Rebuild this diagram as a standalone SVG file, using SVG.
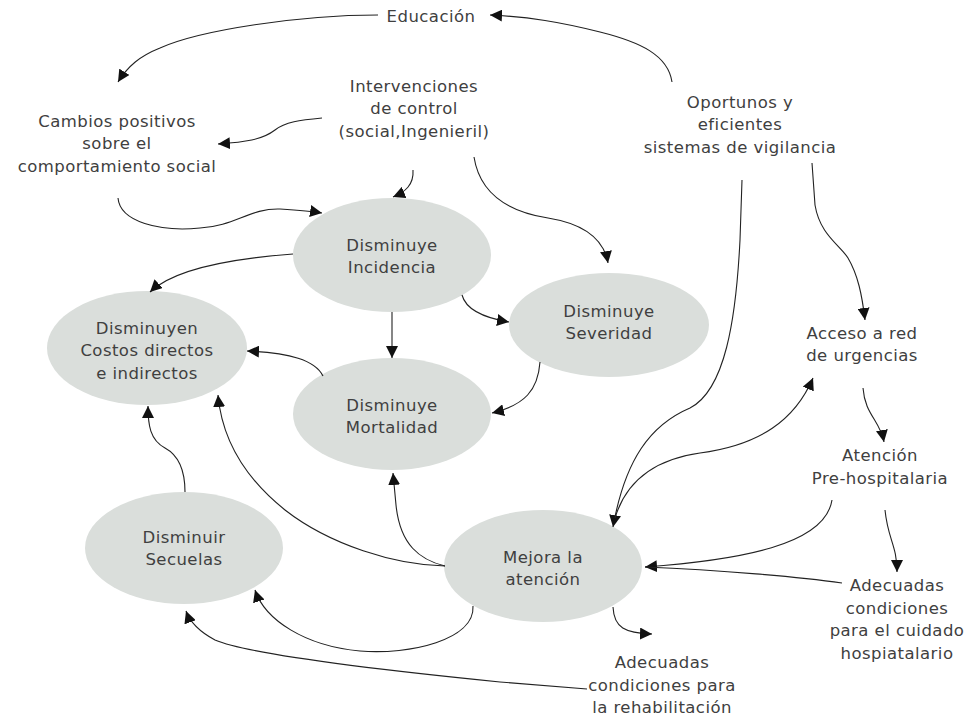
<svg xmlns="http://www.w3.org/2000/svg" width="974" height="717" viewBox="0 0 974 717">
<style>
.n{fill:#dadedb;stroke:none}
text{font-family:"DejaVu Sans","Liberation Sans",sans-serif;font-size:16.5px;letter-spacing:0.45px;fill:#404040;text-anchor:middle}
.c path{fill:none;stroke:#222;stroke-width:1.1}
</style>
<defs>
<marker id="a" markerUnits="userSpaceOnUse" markerWidth="13" markerHeight="12" refX="12" refY="6" orient="auto">
<path d="M0,0 L12,6 L0,12 z" fill="#111"/>
</marker>
</defs>
<rect width="974" height="717" fill="#fff"/>

<g id="educacion"><text x="431" y="22">Educación</text></g>
<g id="cambios"><text x="117" y="127">Cambios positivos</text><text x="117" y="149">sobre el</text><text x="117" y="172">comportamiento social</text></g>
<g id="intervenciones"><text x="414" y="92">Intervenciones</text><text x="414" y="114">de control</text><text x="414" y="137">(social,Ingenieril)</text></g>
<g id="oportunos"><text x="740" y="108">Oportunos y</text><text x="740" y="130">eficientes</text><text x="740" y="153">sistemas de vigilancia</text></g>
<g id="acceso"><text x="862" y="339">Acceso a red</text><text x="862" y="361">de urgencias</text></g>
<g id="atencion"><text x="880" y="461">Atención</text><text x="880" y="484">Pre-hospitalaria</text></g>
<g id="cuidado"><text x="897" y="591">Adecuadas</text><text x="897" y="614">condiciones</text><text x="897" y="636">para el cuidado</text><text x="897" y="659">hospiatalario</text></g>
<g id="rehab"><text x="662" y="668">Adecuadas</text><text x="662" y="691">condiciones para</text><text x="662" y="713">la rehabilitación</text></g>

<g id="incidencia"><ellipse class="n" cx="392" cy="255" rx="99" ry="57"/><text x="392" y="251">Disminuye</text><text x="392" y="273">Incidencia</text></g>
<g id="costos"><ellipse class="n" cx="147" cy="348" rx="100" ry="57"/><text x="147" y="334">Disminuyen</text><text x="147" y="356">Costos directos</text><text x="147" y="379">e indirectos</text></g>
<g id="severidad"><ellipse class="n" cx="609" cy="325" rx="100" ry="52"/><text x="609" y="317">Disminuye</text><text x="609" y="339">Severidad</text></g>
<g id="mortalidad"><ellipse class="n" cx="392" cy="414" rx="99" ry="56"/><text x="392" y="411">Disminuye</text><text x="392" y="433">Mortalidad</text></g>
<g id="secuelas"><ellipse class="n" cx="184" cy="548" rx="99" ry="56"/><text x="184" y="543">Disminuir</text><text x="184" y="565">Secuelas</text></g>
<g id="mejora"><ellipse class="n" cx="543" cy="566" rx="99" ry="56"/><text x="543" y="563">Mejora la</text><text x="543" y="585">atención</text></g>

<g class="c" id="connectors">
<path d="M672,82 C668,55 640,42 600,32 C560,22 530,17 490,15" marker-end="url(#a)"/>
<path d="M378,15 C300,15 200,30 160,48 C140,56 128,66 118,82" marker-end="url(#a)"/>
<path d="M322,118 C300,120 285,122 275,130 C262,140 245,142 218,144" marker-end="url(#a)"/>
<path d="M413,170 C414,185 405,192 393,197" marker-end="url(#a)"/>
<path d="M118,198 C120,222 160,232 200,228 C235,226 250,208 280,209 C295,210 310,211 322,213" marker-end="url(#a)"/>
<path d="M474,157 C480,195 510,212 548,218 C585,224 604,240 608,263" marker-end="url(#a)"/>
<path d="M293,254 C240,258 175,268 150,292" marker-end="url(#a)"/>
<path d="M392,312 L392,358" marker-end="url(#a)"/>
<path d="M462,295 C466,310 485,318 509,322" marker-end="url(#a)"/>
<path d="M323,376 C315,360 290,353 247,351" marker-end="url(#a)"/>
<path d="M540,362 C538,390 525,405 492,413" marker-end="url(#a)"/>
<path d="M185,492 C185,470 178,455 165,448 C150,440 148,425 148,406" marker-end="url(#a)"/>
<path d="M445,566 C395,565 330,545 285,510 C245,478 222,440 218,395" marker-end="url(#a)"/>
<path d="M445,566 C420,560 400,545 396,505 L393,473" marker-end="url(#a)"/>
<path d="M473,606 C475,640 410,655 360,651 C305,646 265,620 255,590" marker-end="url(#a)"/>
<path d="M587,689 L500,682 C380,670 250,655 215,640 C200,632 190,622 186,611" marker-end="url(#a)"/>
<path d="M742,180 L740,240 C736,320 725,390 690,408 C650,425 625,460 613,527" marker-end="url(#a)"/>
<path d="M615,518 C625,485 650,460 700,453 C760,445 795,420 813,378" marker-end="url(#a)"/>
<path d="M812,163 L815,205 C820,235 840,245 848,258 C858,275 862,295 865,320" marker-end="url(#a)"/>
<path d="M863,388 C865,415 880,420 884,442" marker-end="url(#a)"/>
<path d="M832,500 C825,545 740,560 645,567" marker-end="url(#a)"/>
<path d="M885,510 C888,540 897,545 897,572" marker-end="url(#a)"/>
<path d="M842,583 C800,577 720,570 645,567"/>
<path d="M613,607 C614,628 625,633 652,634" marker-end="url(#a)"/>
</g>
</svg>
